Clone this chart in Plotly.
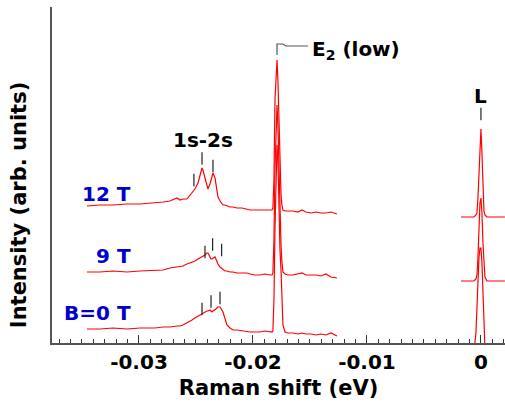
import plotly.graph_objects as go

# ---- data (Raman shift in eV, intensity in arbitrary offset units) ----
x_left = [-0.03456, -0.03342, -0.03228, -0.03105, -0.02991, -0.02860, -0.02789, -0.02728,
          -0.02667, -0.02640, -0.02614, -0.02579, -0.02553, -0.02535, -0.02509, -0.02482,
          -0.02465, -0.02447, -0.02439, -0.02421, -0.02404, -0.02395, -0.02377, -0.02368,
          -0.02360, -0.02351, -0.02333, -0.02325, -0.02307, -0.02289, -0.02263, -0.02246,
          -0.02228, -0.02202, -0.02175, -0.02140, -0.02096, -0.02053, -0.02026, -0.01982,
          -0.01939, -0.01895, -0.01851, -0.01833, -0.01825, -0.01816, -0.01807, -0.01798,
          -0.01789, -0.01781, -0.01772, -0.01763, -0.01754, -0.01746, -0.01737, -0.01719,
          -0.01693, -0.01649, -0.01605, -0.01570, -0.01535, -0.01491, -0.01447, -0.01404,
          -0.01360, -0.01316, -0.01263]

int_12T_left = [137, 138, 138, 139, 139, 140, 141, 142, 145, 143, 144, 144, 148, 151, 154, 160,
                168, 175, 173, 166, 157, 154, 159, 163, 167, 170, 165, 160, 146, 142, 138, 138,
                137, 136, 136, 135, 135, 134, 133, 133, 133, 133, 133, 133, 135, 163, 243, 273,
                283, 263, 213, 173, 148, 138, 133, 132, 132, 132, 131, 133, 131, 130, 131, 130,
                130, 131, 129]
int_9T_left = [71, 71, 72, 71, 72, 73, 73, 75, 76, 77, 77, 79, 80, 81, 82, 84, 85, 86, 87, 88,
               90, 90, 86, 84, 84, 85, 86, 84, 79, 76, 73, 72, 72, 71, 71, 70, 70, 70, 69, 68,
               68, 69, 68, 68, 70, 103, 173, 223, 238, 218, 168, 128, 98, 81, 71, 69, 68, 68,
               69, 70, 68, 68, 68, 67, 69, 66, 65]
int_0T_left = [14, 14, 15, 14, 15, 15, 16, 16, 17, 17, 18, 20, 22, 23, 25, 27, 28, 29, 30, 31,
               32, 32, 33, 32, 31, 32, 33, 34, 36, 36, 31, 25, 18, 15, 13, 13, 12, 11, 11, 11,
               11, 12, 11, 11, 12, 43, 113, 173, 198, 183, 133, 93, 73, 43, 18, 11, 10, 10, 9,
               10, 9, 9, 8, 9, 8, 10, 7]

x_right = [-0.001754, -0.001316, -0.000965, -0.000614, -0.000439, -0.000351, -0.000263,
           -0.000175, -0.000088, 0.0, 0.000088, 0.000175, 0.000263, 0.000351, 0.000526,
           0.000789, 0.001228, 0.001667, 0.002105]
int_12T_right = [126, 126, 126, 126, 128, 130, 145, 175, 205, 214, 190, 150, 132, 128, 126, 126, 126, 126, 126]
int_9T_right = [62, 62, 62, 62, 64, 68, 85, 115, 140, 145, 130, 100, 75, 66, 62, 62, 62, 62, 62]
int_0T_right = [-8, -8, -8, -8, 10, 40, 65, 85, 95, 95, 80, 50, 15, -5, -8, -8, -8, -8, -8]

field_labels = ["12 T", "9 T", "B=0 T"]
field_label_y = [149, 87, 30]
field_label_x = -0.03053

# peak-marker dashes (1s-2s features and laser line)
mark_x = [-0.02518, -0.02447, -0.02351,
          -0.02421, -0.02354, -0.02275,
          -0.02447, -0.02368, -0.02289,
          0.0]
mark_y = [163, 184.5, 177,
          91, 98.5, 93,
          34, 41.5, 45,
          229]

# E2(low) bracket
bracket_x = [-0.01789, -0.01789, -0.01737, -0.01711, -0.01518]
bracket_y = [288, 299, 299, 297, 297]

xtick_vals = [-0.03, -0.02, -0.01, 0.0]
xtick_text = ["-0.03", "-0.02", "-0.01", "0"]

RED = "#ff0000"
BLUE = "#0000cc"
FONT = "DejaVu Sans"

fig = go.Figure()
for yl, yr in [(int_12T_left, int_12T_right), (int_9T_left, int_9T_right), (int_0T_left, int_0T_right)]:
    fig.add_trace(go.Scatter(x=x_left, y=yl, mode="lines", line=dict(color=RED, width=1.2),
                             showlegend=False, hoverinfo="skip"))
    fig.add_trace(go.Scatter(x=x_right, y=yr, mode="lines", line=dict(color=RED, width=1.2),
                             showlegend=False, hoverinfo="skip"))

fig.add_trace(go.Scatter(x=mark_x, y=mark_y, mode="markers",
                         marker=dict(symbol="line-ns", size=9, line=dict(color="#222", width=1.2)),
                         showlegend=False, hoverinfo="skip"))
fig.add_trace(go.Scatter(x=bracket_x, y=bracket_y, mode="lines",
                         line=dict(color="#555", width=1.2), showlegend=False, hoverinfo="skip"))

for t, yv in zip(field_labels, field_label_y):
    fig.add_annotation(x=field_label_x, y=yv, text=t, showarrow=False, xanchor="right",
                       yanchor="middle", font=dict(family=FONT, size=20, color=BLUE, weight="bold"))

fig.add_annotation(x=-0.02439, y=203, text="1s-2s", showarrow=False, xanchor="center", yanchor="middle",
                   font=dict(family=FONT, size=20, color="black", weight="bold"))
fig.add_annotation(x=-0.0150, y=293, text="E<sub>2</sub> (low)", showarrow=False, xanchor="left",
                   yanchor="middle", font=dict(family=FONT, size=20, color="black", weight="bold"))
fig.add_annotation(x=0.0, y=247, text="L", showarrow=False, xanchor="center", yanchor="middle",
                   font=dict(family=FONT, size=20, color="black", weight="bold"))

# y-axis title (placed as rotated annotation to match the reference's vertical position)
fig.add_annotation(xref="paper", yref="paper", x=-0.073, y=0.41, text="Intensity (arb. units)",
                   textangle=-90, showarrow=False, xanchor="center", yanchor="middle",
                   font=dict(family=FONT, size=21, color="black", weight="bold"))

fig.update_layout(
    width=505, height=407,
    margin=dict(l=52, r=0, t=7, b=64),
    paper_bgcolor="white", plot_bgcolor="white",
    font=dict(family=FONT, size=20, color="black"),
    xaxis=dict(
        range=[-0.03763, 0.00211], showgrid=False, zeroline=False,
        showline=True, linecolor="#555", linewidth=1.5,
        tickmode="array", tickvals=xtick_vals, ticktext=xtick_text,
        ticks="inside", ticklen=8, tickwidth=1.2, tickcolor="#333",
        minor=dict(tickmode="linear", tick0=0, dtick=0.001, ticks="inside", ticklen=4,
                   tickwidth=1, tickcolor="#333", showgrid=False),
        tickfont=dict(family=FONT, size=20, color="black", weight="bold"),
        title=dict(text="Raman shift (eV)", standoff=8,
                   font=dict(family=FONT, size=21, color="black", weight="bold")),
    ),
    yaxis=dict(
        range=[0, 336], showgrid=False, zeroline=False,
        showline=True, linecolor="#555", linewidth=1.5,
        tickmode="array", tickvals=[336], showticklabels=False,
        ticks="inside", ticklen=6, tickcolor="#333",
    ),
)

fig.write_html("out.html")
